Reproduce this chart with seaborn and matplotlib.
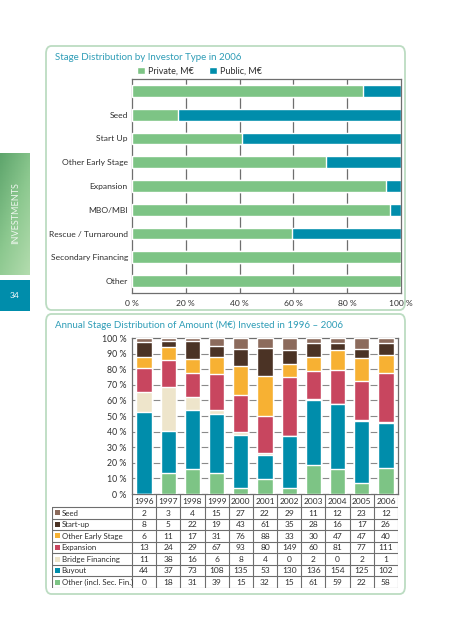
import numpy as np
import pandas as pd
import matplotlib.pyplot as plt
import seaborn as sns
from matplotlib.patches import FancyBboxPatch, Rectangle, Patch

# ---- data: 2006 stage split by investor type (share of private, %)
stage_keys = ["Total", "Seed", "Start Up", "Other Early Stage", "Expansion", "MBO/MBI",
              "Rescue/Turnaround", "Secondary Financing", "Other"]
stage_labels = ["", "Seed", "Start Up", "Other Early Stage", "Expansion", "MBO/MBI",
                "Rescue / Turnaround", "Secondary Financing", "Other"]
private_pct = [86, 17, 41, 72, 94.5, 96, 59.5, 100, 100]

# ---- data: annual amounts (M€) by stage
years = ["1996", "1997", "1998", "1999", "2000", "2001", "2002", "2003", "2004", "2005", "2006"]
seed = [2, 3, 4, 15, 27, 22, 29, 11, 12, 23, 12]
start_up = [8, 5, 22, 19, 43, 61, 35, 28, 16, 17, 26]
other_early = [6, 11, 17, 31, 76, 88, 33, 30, 47, 47, 40]
expansion = [13, 24, 29, 67, 93, 80, 149, 60, 81, 77, 111]
bridge = [11, 38, 16, 6, 8, 4, 0, 2, 0, 2, 1]
buyout = [44, 37, 73, 108, 135, 53, 130, 136, 154, 125, 102]
other = [0, 18, 31, 39, 15, 32, 15, 61, 59, 22, 58]

row_names = ["Seed", "Start-up", "Other Early Stage", "Expansion", "Bridge Financing",
             "Buyout", "Other (incl. Sec. Fin.)"]
row_values = [seed, start_up, other_early, expansion, bridge, buyout, other]
row_colors = ["#8c6b5c", "#4b3325", "#f7b133", "#c8465f", "#eee5cb", "#008dab", "#7dc485"]

GREEN = "#7dc485"
TEAL = "#008dab"
TITLE = "#2f9db7"
TXT = "#2e2e2e"
LINE = "#6e6e6e"

W, H = 451, 640


def box(x0, y0, x1, y1):
    return [x0 / W, 1 - y1 / H, (x1 - x0) / W, (y1 - y0) / H]


sns.set_theme(style="white")
plt.rcParams["font.family"] = ["Lato", "DejaVu Sans"]

fig = plt.figure(figsize=(W / 100, H / 100), dpi=100)

# frames
for y0, y1 in [(46, 310), (314, 594)]:
    fig.patches.append(FancyBboxPatch((46 / W, 1 - y1 / H), 359 / W, (y1 - y0) / H,
                                      boxstyle="round,pad=0,rounding_size=0.012",
                                      transform=fig.transFigure, facecolor="none",
                                      edgecolor="#bcdcc2", linewidth=1.3))

# side tab
side = fig.add_axes(box(0, 153, 30, 275))
grad = np.linspace(0, 1, 100)[:, None] * 0.6 + np.linspace(0, 1, 20)[None, :] * 0.4
side.imshow(grad, cmap=sns.blend_palette(["#5ea56c", "#8cc88f", "#b3dcae"], as_cmap=True),
            aspect="auto", extent=[0, 1, 0, 1])
side.set_axis_off()
fig.text(16 / W, 1 - 213 / H, "INVESTMENTS", rotation=90, color="#eef6ee",
         fontsize=6.5, ha="center", va="center")
tab = fig.add_axes(box(0, 280, 30, 311))
tab.set_facecolor(TEAL)
tab.set_xticks([])
tab.set_yticks([])
for s in tab.spines.values():
    s.set_visible(False)
fig.text(15 / W, 1 - 295 / H, "34", color="white", fontsize=6, ha="center", va="center")

# ---- top chart
fig.text(55 / W, 1 - 58 / H, "Stage Distribution by Investor Type in 2006", color=TITLE,
         fontsize=7, va="center")
ax1 = fig.add_axes(box(132, 79, 401, 293))
top = pd.DataFrame({"stage": stage_keys, "private": private_pct, "total": 100})
sns.barplot(data=top, x="total", y="stage", color=TEAL, saturation=1, width=0.5,
            ax=ax1, zorder=2)
sns.barplot(data=top, x="private", y="stage", color=GREEN, saturation=1, width=0.5,
            ax=ax1, zorder=3)
ax1.set_xlim(0, 100)
ax1.set_xticks([0, 20, 40, 60, 80, 100])
ax1.set_xticklabels(["0 %", "20 %", "40 %", "60 %", "80 %", "100 %"])
ax1.set_yticks(range(len(stage_labels)))
ax1.set_yticklabels(stage_labels)
ax1.set_xlabel("")
ax1.set_ylabel("")
for v in [20, 40, 60, 80]:
    ax1.axvline(v, color=LINE, lw=0.9, zorder=1)
ax1.tick_params(length=0, labelsize=6.1, labelcolor=TXT, pad=3)
ax1.tick_params(axis="x", pad=5)
for s in ax1.spines.values():
    s.set_color(LINE)
    s.set_linewidth(0.9)
fig.legend(handles=[Patch(facecolor=GREEN, label="Private, M€"),
                    Patch(facecolor=TEAL, label="Public, M€")],
           loc="center left", bbox_to_anchor=(132 / W, 1 - 71 / H), ncol=2, frameon=False,
           fontsize=6.5, handlelength=0.9, handleheight=0.9, handletextpad=0.4,
           columnspacing=1.6, borderpad=0, labelcolor=TXT)

# ---- bottom chart
fig.text(55 / W, 1 - 325 / H, "Annual Stage Distribution of Amount (M€) Invested in 1996 – 2006",
         color=TITLE, fontsize=7, va="center")
ax2 = fig.add_axes(box(132, 338, 398, 494))
long = pd.DataFrame([{"stage": n, "year": y, "value": v}
                     for n, vals in zip(row_names, row_values) for y, v in zip(years, vals)])
long["pct"] = long["value"] / long.groupby("year")["value"].transform("sum") * 100
stack_order = row_names[::-1]  # bottom to top
cum = long.pivot(index="year", columns="stage", values="pct")[stack_order].cumsum(axis=1)
for name in row_names:  # top layer first, lower layers drawn over it
    col = row_colors[row_names.index(name)]
    d = cum[name].reset_index()
    sns.barplot(data=d, x="year", y=name, color=col, saturation=1, width=0.63,
                ax=ax2, zorder=3)
ax2.set_ylim(0, 100)
ax2.set_xlim(-0.5, len(years) - 0.5)
ax2.set_yticks(range(0, 101, 10))
ax2.set_yticklabels([f"{v} %" for v in range(0, 101, 10)])
ax2.set_xticks([])
ax2.set_xlabel("")
ax2.set_ylabel("")
for v in range(10, 100, 10):
    ax2.axhline(v, color="#8a8a8a", lw=0.8, zorder=1)
ax2.tick_params(length=0, labelsize=6.3, labelcolor=TXT, pad=4)
for s in ax2.spines.values():
    s.set_color(LINE)
    s.set_linewidth(0.9)

# ---- data table under the bars
tb = fig.add_axes(box(52, 494, 398, 588))
tb.set_xlim(0, 346)
tb.set_ylim(94, 0)
tb.set_axis_off()
lab_w = 80
col_w = (346 - lab_w) / len(years)
head_h = 13
row_h = (94 - head_h) / len(row_names)
for i, y in enumerate(years):
    tb.text(lab_w + (i + 0.5) * col_w, head_h / 2 + 0.5, y, ha="center", va="center",
            fontsize=6, color=TXT)
for i in range(len(years) + 1):
    tb.plot([lab_w + i * col_w] * 2, [0, 94], color=LINE, lw=0.8)
tb.plot([0, 0], [head_h, 94], color=LINE, lw=0.8)
for j in range(len(row_names) + 1):
    tb.plot([0, 346], [head_h + j * row_h] * 2, color=LINE, lw=0.8)
for j, (name, vals, col) in enumerate(zip(row_names, row_values, row_colors)):
    yc = head_h + (j + 0.5) * row_h
    tb.add_patch(Rectangle((2.5, yc - 2.5), 5, 5, facecolor=col, edgecolor="none"))
    tb.text(9.5, yc + 0.3, name, ha="left", va="center", fontsize=5.7, color=TXT)
    for i, v in enumerate(vals):
        tb.text(lab_w + (i + 0.5) * col_w, yc + 0.3, str(v), ha="center", va="center",
                fontsize=6, color=TXT)

fig.savefig("out.png", dpi=100)
